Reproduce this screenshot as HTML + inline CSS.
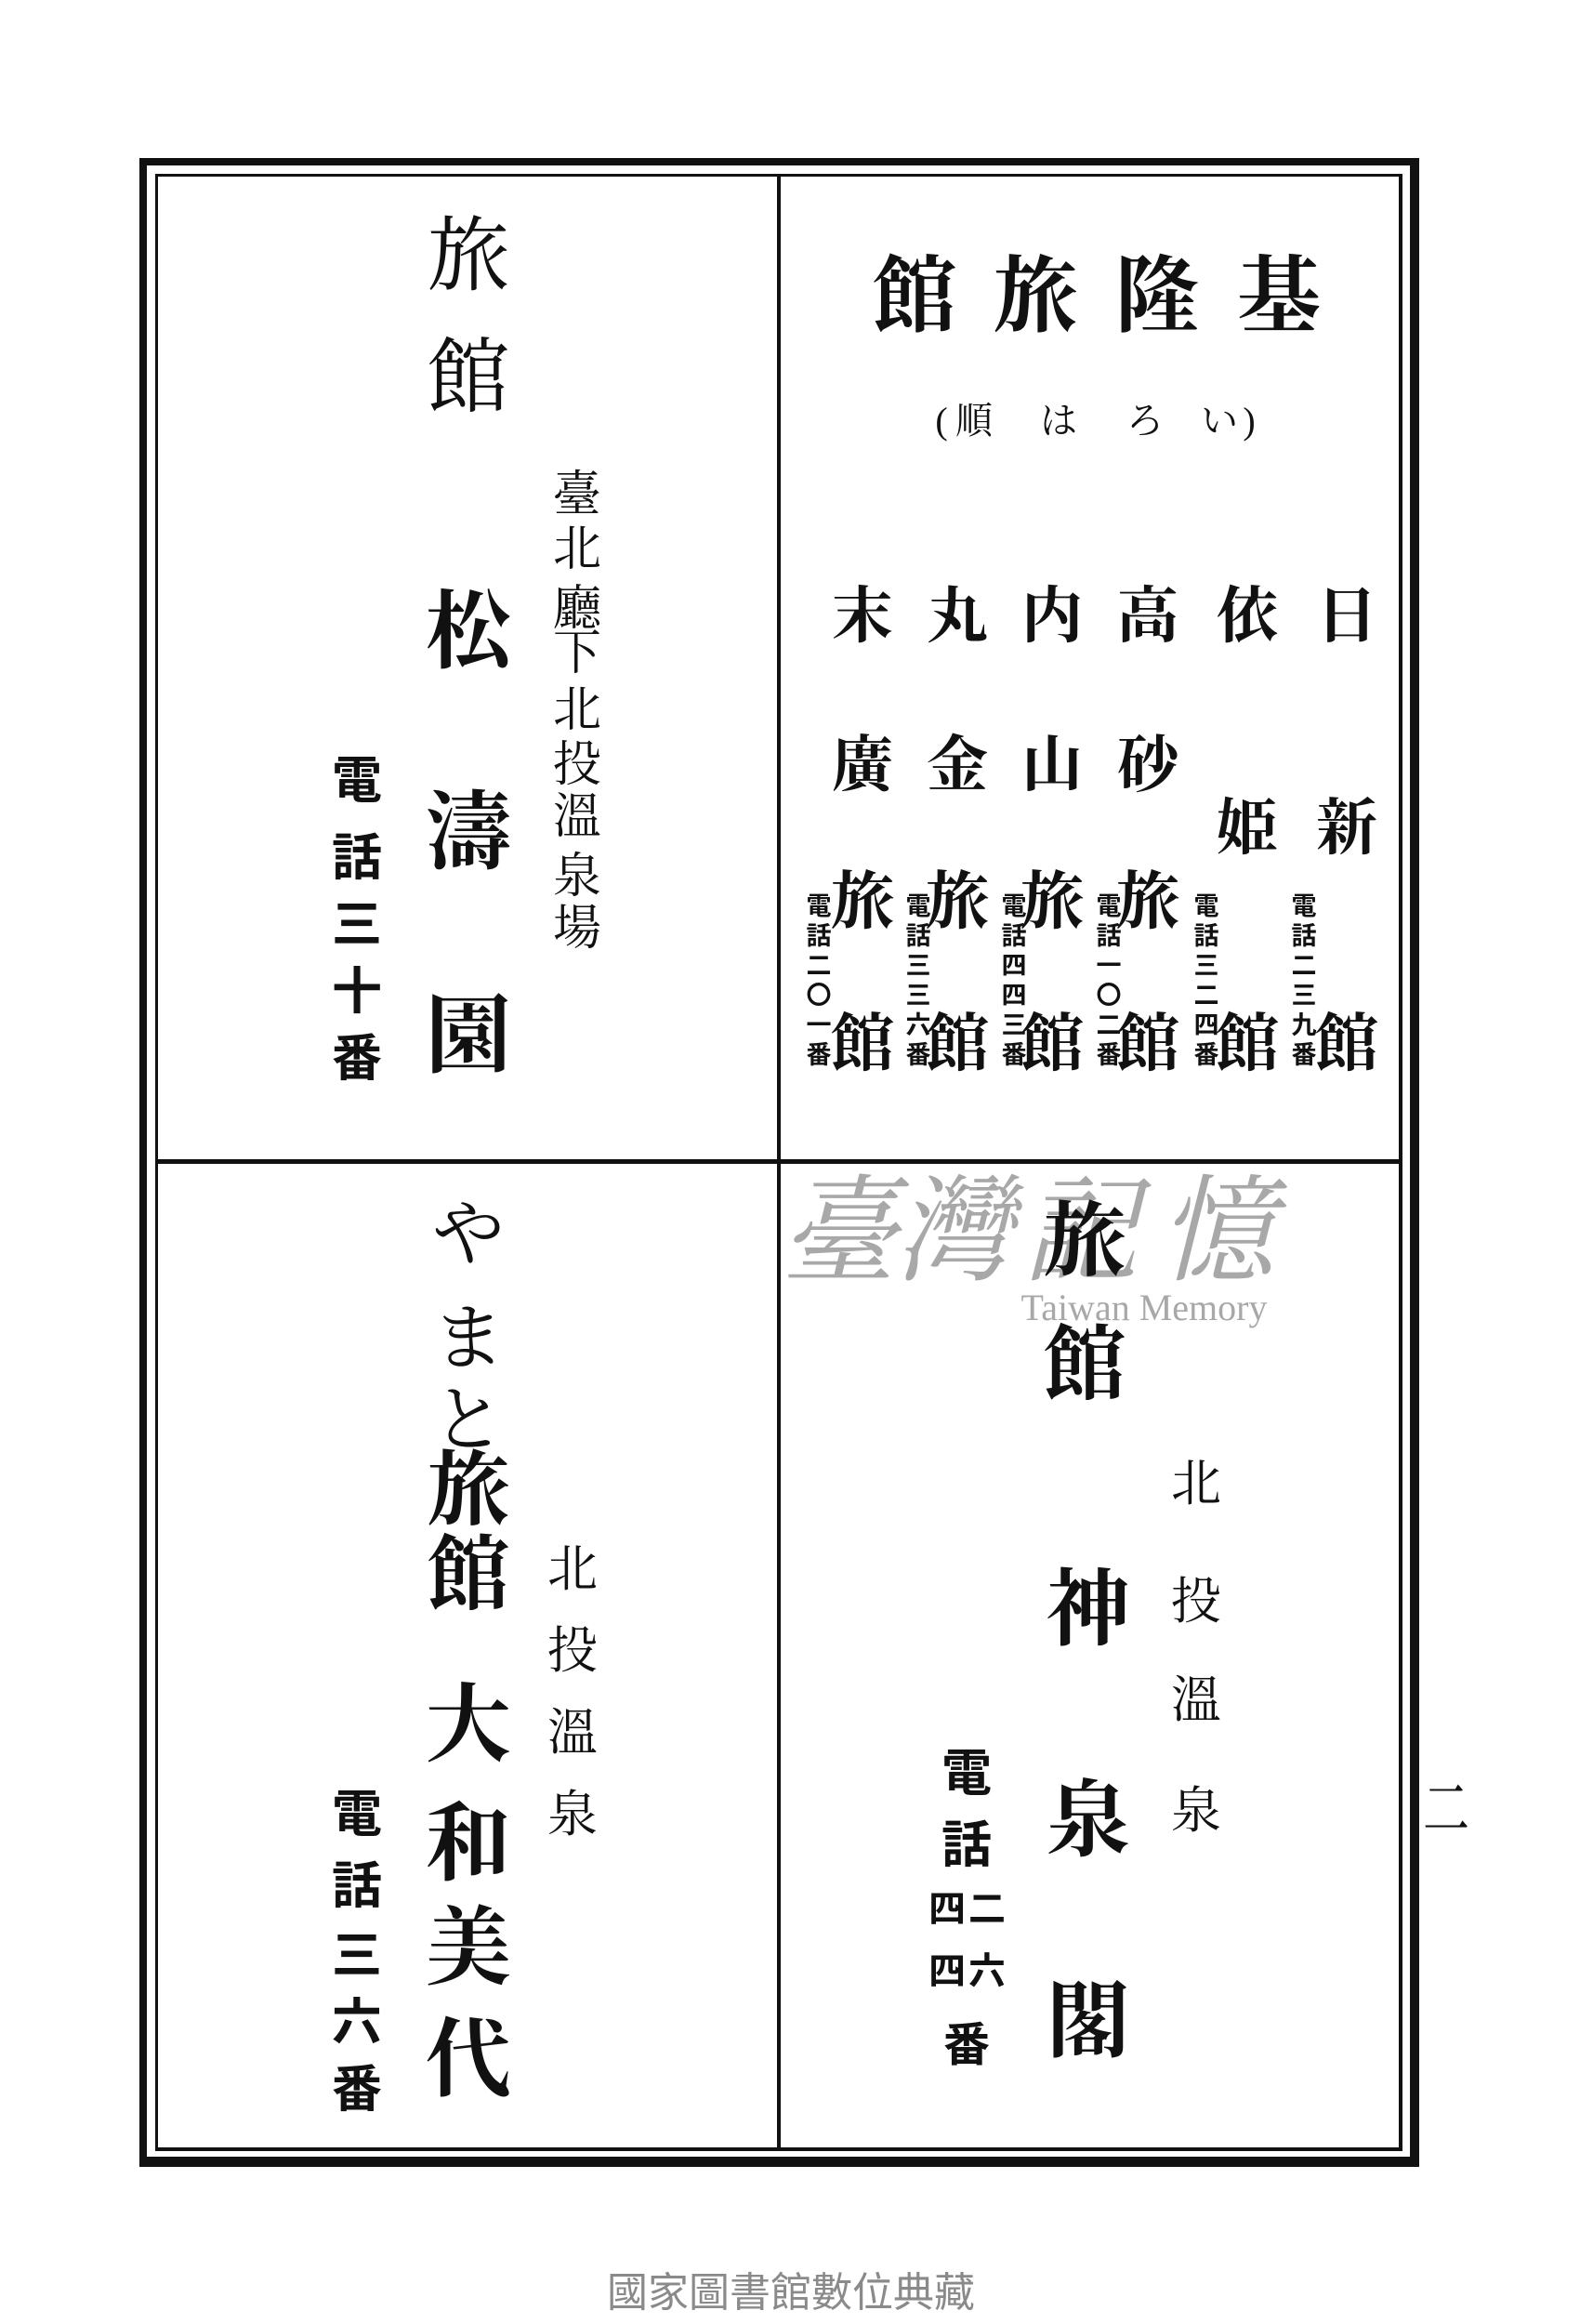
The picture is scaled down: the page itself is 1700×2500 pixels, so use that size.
<!DOCTYPE html>
<html><head><meta charset="utf-8">
<style>
html,body{margin:0;padding:0;background:#fff;}
body{width:1700px;height:2500px;position:relative;overflow:hidden;font-family:"Liberation Serif","Noto Serif CJK JP","Noto Serif CJK SC",serif;color:#111;}
.r{position:absolute;background:#111;}
.c{position:absolute;transform:translate(-50%,-50%);line-height:1;white-space:nowrap;}
.b{font-weight:700;font-family:"Liberation Sans","Noto Sans CJK JP",sans-serif;}
.w{color:#a8a8a8;}
</style></head><body>
<!-- frame -->
<div class="r" style="left:150px;top:170px;width:1377px;height:8px"></div>
<div class="r" style="left:150px;top:2320px;width:1377px;height:11px"></div>
<div class="r" style="left:150px;top:170px;width:8px;height:2161px"></div>
<div class="r" style="left:1517px;top:170px;width:10px;height:2161px"></div>
<div class="r" style="left:167px;top:187px;width:1342px;height:3px"></div>
<div class="r" style="left:167px;top:2310px;width:1342px;height:4px"></div>
<div class="r" style="left:167px;top:187px;width:3px;height:2127px"></div>
<div class="r" style="left:1505px;top:187px;width:4px;height:2127px"></div>
<div class="r" style="left:836px;top:190px;width:4px;height:2120px"></div>
<div class="r" style="left:168px;top:1247px;width:1340px;height:5px"></div>

<!-- top-left -->
<div class="c" style="left:504px;top:277px;font-size:88px">旅</div>
<div class="c" style="left:504px;top:408px;font-size:88px">館</div>
<div class="c" style="left:504px;top:680px;font-size:92px;font-weight:700">松</div>
<div class="c" style="left:504px;top:896px;font-size:92px;font-weight:700">濤</div>
<div class="c" style="left:504px;top:1115px;font-size:92px;font-weight:700">園</div>
<div class="c" style="left:621px;top:533px;font-size:52px">臺</div>
<div class="c" style="left:621px;top:592px;font-size:52px">北</div>
<div class="c" style="left:621px;top:656px;font-size:52px">廳</div>
<div class="c" style="left:621px;top:704px;font-size:52px">下</div>
<div class="c" style="left:621px;top:765px;font-size:52px">北</div>
<div class="c" style="left:621px;top:824px;font-size:52px">投</div>
<div class="c" style="left:621px;top:880px;font-size:52px">溫</div>
<div class="c" style="left:621px;top:944px;font-size:52px">泉</div>
<div class="c" style="left:621px;top:1000px;font-size:52px">場</div>
<div class="c b" style="left:384px;top:840px;font-size:54px">電</div>
<div class="c b" style="left:384px;top:923px;font-size:54px">話</div>
<div class="c b" style="left:384px;top:995px;font-size:54px">三</div>
<div class="c b" style="left:384px;top:1067px;font-size:54px">十</div>
<div class="c b" style="left:384px;top:1139px;font-size:54px">番</div>

<!-- top-right -->
<div class="c" style="left:984px;top:320px;font-size:90px;font-weight:700">館</div>
<div class="c" style="left:1114px;top:320px;font-size:90px;font-weight:700">旅</div>
<div class="c" style="left:1245px;top:320px;font-size:90px;font-weight:700">隆</div>
<div class="c" style="left:1376px;top:320px;font-size:90px;font-weight:700">基</div>
<div class="c" style="left:1013px;top:453px;font-size:40px">(</div>
<div class="c" style="left:1048px;top:453px;font-size:40px">順</div>
<div class="c" style="left:1139px;top:453px;font-size:40px">は</div>
<div class="c" style="left:1232px;top:453px;font-size:40px">ろ</div>
<div class="c" style="left:1312px;top:453px;font-size:40px">い</div>
<div class="c" style="left:1344px;top:453px;font-size:40px">)</div>

<div class="c" style="left:928px;top:664px;font-size:66px;font-weight:700">末</div>
<div class="c" style="left:1030px;top:664px;font-size:66px;font-weight:700">丸</div>
<div class="c" style="left:1132px;top:664px;font-size:66px;font-weight:700">内</div>
<div class="c" style="left:1235px;top:664px;font-size:66px;font-weight:700">高</div>
<div class="c" style="left:1342px;top:664px;font-size:66px;font-weight:700">依</div>
<div class="c" style="left:1449px;top:664px;font-size:66px;font-weight:700">日</div>
<div class="c" style="left:928px;top:824px;font-size:66px;font-weight:700">廣</div>
<div class="c" style="left:1030px;top:824px;font-size:66px;font-weight:700">金</div>
<div class="c" style="left:1132px;top:824px;font-size:66px;font-weight:700">山</div>
<div class="c" style="left:1235px;top:824px;font-size:66px;font-weight:700">砂</div>
<div class="c" style="left:1342px;top:892px;font-size:66px;font-weight:700">姫</div>
<div class="c" style="left:1449px;top:892px;font-size:66px;font-weight:700">新</div>

<div class="c" style="left:928px;top:970px;font-size:68px;font-weight:700">旅</div>
<div class="c" style="left:1030px;top:970px;font-size:68px;font-weight:700">旅</div>
<div class="c" style="left:1132px;top:970px;font-size:68px;font-weight:700">旅</div>
<div class="c" style="left:1235px;top:970px;font-size:68px;font-weight:700">旅</div>
<div class="c" style="left:928px;top:1123px;font-size:68px;font-weight:700">館</div>
<div class="c" style="left:1030px;top:1123px;font-size:68px;font-weight:700">館</div>
<div class="c" style="left:1132px;top:1123px;font-size:68px;font-weight:700">館</div>
<div class="c" style="left:1235px;top:1123px;font-size:68px;font-weight:700">館</div>
<div class="c" style="left:1342px;top:1123px;font-size:68px;font-weight:700">館</div>
<div class="c" style="left:1449px;top:1123px;font-size:68px;font-weight:700">館</div>

<div class="c b" style="left:878px;top:1056px;font-size:27px;writing-mode:vertical-rl;line-height:1;letter-spacing:5px">電話二〇一番</div>
<div class="c b" style="left:985px;top:1056px;font-size:27px;writing-mode:vertical-rl;line-height:1;letter-spacing:5px">電話三三六番</div>
<div class="c b" style="left:1088px;top:1056px;font-size:27px;writing-mode:vertical-rl;line-height:1;letter-spacing:5px">電話四四三番</div>
<div class="c b" style="left:1190px;top:1056px;font-size:27px;writing-mode:vertical-rl;line-height:1;letter-spacing:5px">電話一〇二番</div>
<div class="c b" style="left:1295px;top:1056px;font-size:27px;writing-mode:vertical-rl;line-height:1;letter-spacing:5px">電話三二四番</div>
<div class="c b" style="left:1400px;top:1056px;font-size:27px;writing-mode:vertical-rl;line-height:1;letter-spacing:5px">電話二三九番</div>

<!-- bottom-left -->
<div class="c" style="left:504px;top:1328px;font-size:78px">や</div>
<div class="c" style="left:504px;top:1440px;font-size:78px">ま</div>
<div class="c" style="left:504px;top:1528px;font-size:78px">と</div>
<div class="c" style="left:504px;top:1605px;font-size:88px;font-weight:700">旅</div>
<div class="c" style="left:504px;top:1696px;font-size:88px;font-weight:700">館</div>
<div class="c" style="left:504px;top:1856px;font-size:92px;font-weight:700">大</div>
<div class="c" style="left:504px;top:1984px;font-size:92px;font-weight:700">和</div>
<div class="c" style="left:504px;top:2096px;font-size:92px;font-weight:700">美</div>
<div class="c" style="left:504px;top:2216px;font-size:92px;font-weight:700">代</div>
<div class="c" style="left:616px;top:1688px;font-size:54px">北</div>
<div class="c" style="left:616px;top:1776px;font-size:54px">投</div>
<div class="c" style="left:616px;top:1864px;font-size:54px">溫</div>
<div class="c" style="left:616px;top:1952px;font-size:54px">泉</div>
<div class="c b" style="left:384px;top:1952px;font-size:54px">電</div>
<div class="c b" style="left:384px;top:2029px;font-size:54px">話</div>
<div class="c b" style="left:384px;top:2104px;font-size:54px">三</div>
<div class="c b" style="left:384px;top:2176px;font-size:54px">六</div>
<div class="c b" style="left:384px;top:2248px;font-size:54px">番</div>

<!-- bottom-right watermark -->
<div class="c w" style="left:903px;top:1327px;font-size:125px;font-style:italic">臺</div>
<div class="c w" style="left:1025px;top:1327px;font-size:125px;font-style:italic">灣</div>
<div class="c w" style="left:1163px;top:1327px;font-size:125px;font-style:italic">記</div>
<div class="c w" style="left:1309px;top:1327px;font-size:125px;font-style:italic">憶</div>
<div class="c w" style="left:1231px;top:1407px;font-size:40px;font-family:'Liberation Serif',serif">Taiwan Memory</div>

<div class="c" style="left:1167px;top:1337px;font-size:88px;font-weight:700">旅</div>
<div class="c" style="left:1167px;top:1470px;font-size:88px;font-weight:700">館</div>
<div class="c" style="left:1171px;top:1733px;font-size:90px;font-weight:700">神</div>
<div class="c" style="left:1171px;top:1960px;font-size:90px;font-weight:700">泉</div>
<div class="c" style="left:1171px;top:2176px;font-size:90px;font-weight:700">閣</div>
<div class="c" style="left:1287px;top:1596px;font-size:54px">北</div>
<div class="c" style="left:1287px;top:1723px;font-size:54px">投</div>
<div class="c" style="left:1287px;top:1829px;font-size:54px">溫</div>
<div class="c" style="left:1287px;top:1948px;font-size:54px">泉</div>
<div class="c b" style="left:1040px;top:1908px;font-size:54px">電</div>
<div class="c b" style="left:1040px;top:1985px;font-size:54px">話</div>
<div class="c b" style="left:1019px;top:2054px;font-size:40px">四</div>
<div class="c b" style="left:1062px;top:2054px;font-size:40px">二</div>
<div class="c b" style="left:1019px;top:2121px;font-size:40px">四</div>
<div class="c b" style="left:1062px;top:2121px;font-size:40px">六</div>
<div class="c b" style="left:1040px;top:2200px;font-size:50px">番</div>

<!-- page number -->
<div class="c" style="left:1556px;top:1946px;font-size:50px;transform:translate(-50%,-50%) scaleY(1.4)">二</div>

<!-- footer -->
<div class="c" style="left:851px;top:2467px;font-size:44px;color:#8a8a8a;font-family:'Liberation Sans','Noto Sans CJK TC',sans-serif">國家圖書館數位典藏</div>
</body></html>
